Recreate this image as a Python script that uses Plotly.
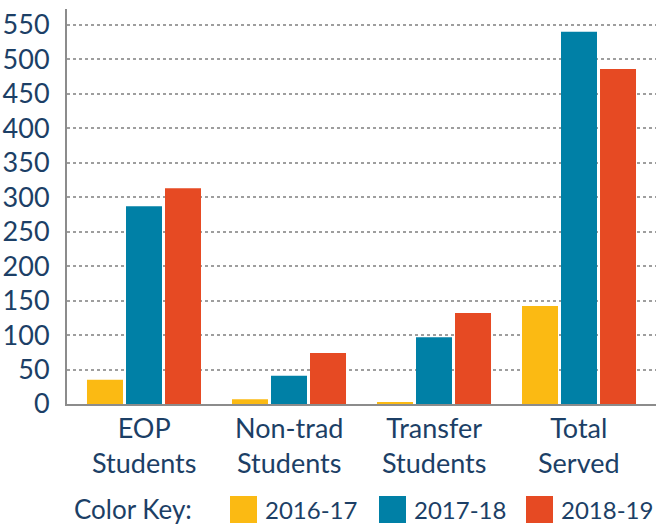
import plotly.graph_objects as go

categories = ["EOP Students", "Non-trad Students", "Transfer Students", "Total Served"]
category_labels = ["EOP<br>Students", "Non-trad<br>Students", "Transfer<br>Students", "Total<br>Served"]
series_names = ["2016-17", "2017-18", "2018-19"]
values_2016 = [35, 7, 3, 142]
values_2017 = [287, 41, 97, 540]
values_2018 = [313, 74, 132, 486]
y_ticks = [0, 50, 100, 150, 200, 250, 300, 350, 400, 450, 500, 550]

colors = ["#FBBA13", "#0080A6", "#E64A23"]
text_color = "#1C3F66"
font_family = "Lato, 'Open Sans', sans-serif"

W, H = 656, 525
L, R, T, B = 67, 0, 9, 121
pw, ph = W - L - R, H - T - B


def px(x):
    return (x - L) / pw


def py(y):
    return (H - B - y) / ph


fig = go.Figure()
for name, vals, col in zip(series_names, [values_2016, values_2017, values_2018], colors):
    fig.add_trace(go.Bar(x=categories, y=vals, name=name, marker=dict(color=col, line=dict(width=0)),
                         showlegend=False))

annotations = []
for cat, lab in zip(categories, category_labels):
    annotations.append(dict(x=cat, xref="x", y=0, yref="paper", yanchor="top", yshift=-5,
                            text=lab, showarrow=False,
                            font=dict(family=font_family, size=27, color=text_color)))

# manual color key
annotations.append(dict(x=px(72), xref="paper", y=py(509), yref="paper", xanchor="left", yanchor="middle",
                        text="Color Key:", showarrow=False,
                        font=dict(family=font_family, size=26, color=text_color)))
sq_left = [230, 379, 526]
txt_left = [265, 414, 561]
shapes = []
for name, col, sl, tl in zip(series_names, colors, sq_left, txt_left):
    shapes.append(dict(type="rect", xref="paper", yref="paper", x0=px(sl), x1=px(sl + 27),
                       y0=py(523), y1=py(496), fillcolor=col, line=dict(width=0)))
    annotations.append(dict(x=px(tl - 2), xref="paper", y=py(509), yref="paper", xanchor="left",
                            yanchor="middle", text=name, showarrow=False,
                            font=dict(family=font_family, size=24, color=text_color)))

fig.update_layout(
    width=W, height=H,
    margin=dict(l=L, r=R, t=T, b=B),
    paper_bgcolor="white", plot_bgcolor="white",
    barmode="group", bargap=0.193, bargroupgap=0.077,
    font=dict(family=font_family, color=text_color),
    annotations=annotations, shapes=shapes,
    showlegend=False,
)
fig.update_xaxes(range=[-0.531, 3.531], showticklabels=False, ticks="", showline=True,
                 linecolor="#8C8C8C", linewidth=2, showgrid=False, zeroline=False)
fig.update_yaxes(range=[0, 573], tickvals=y_ticks, ticktext=[str(v) for v in y_ticks],
                 showline=True, linecolor="#8C8C8C", linewidth=2,
                 showgrid=True, gridcolor="#9E9E9E", gridwidth=1.5, griddash="dot",
                 zeroline=False, ticks="", ticklabelstandoff=10,
                 tickfont=dict(family=font_family, size=27, color=text_color))

fig.write_html("out.html", config={"displayModeBar": False},
               post_script="document.body.style.margin='0';document.body.style.padding='0';")
